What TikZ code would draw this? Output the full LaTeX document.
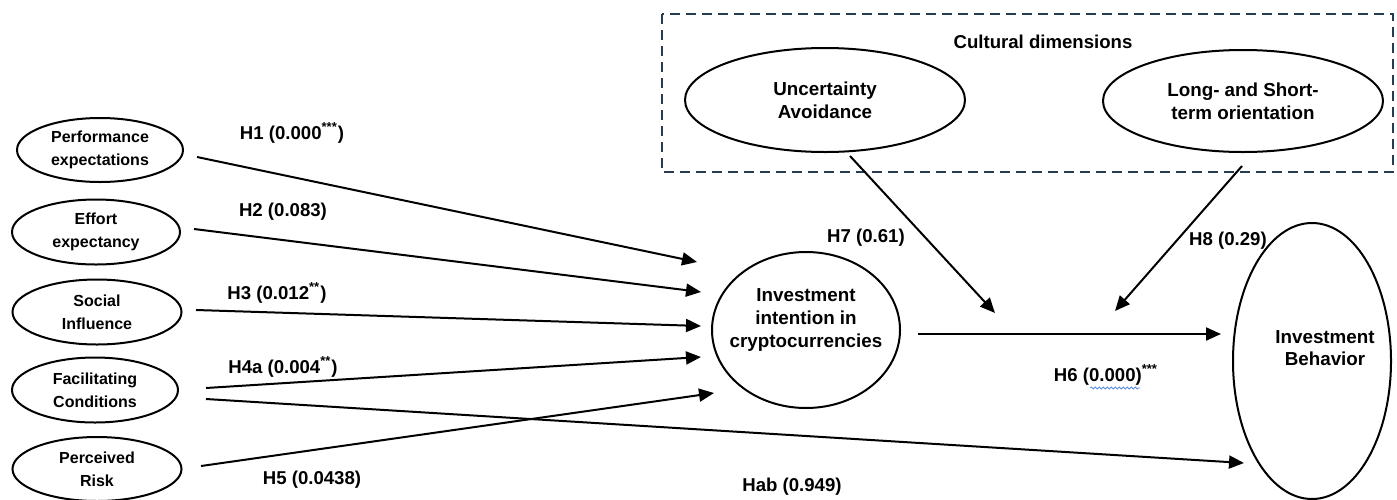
\documentclass[tikz,border=0pt]{standalone}
\usepackage{fontspec}
\setmainfont{Liberation Sans}
\usetikzlibrary{arrows.meta,calc,shapes.geometric,decorations.pathmorphing}
\definecolor{boxblue}{RGB}{38,60,84}
\definecolor{wavyblue}{RGB}{90,140,225}
\begin{document}
\begin{tikzpicture}[x=0.5pt,y=-0.5pt,
  lat/.style={draw, ellipse, line width=1pt, inner sep=0pt, align=center},
  small/.style={font=\fontsize{8}{11.5}\selectfont\bfseries},
  big/.style={font=\fontsize{9.4}{11.3}\selectfont\bfseries},
  lab/.style={font=\fontsize{9.3}{11}\selectfont\bfseries},
  arr/.style={line width=1pt, -{Triangle[length=7.5pt,width=6.5pt]}},
  cultbox/.style={draw=boxblue, line width=1pt, dash pattern=on 5pt off 3pt},
]
\useasboundingbox (0,0) rectangle (1397,499);

% cultural dimensions frame
\draw[cultbox] (662,14) rectangle (1393,172);
\node[lab] (cdt) at (1043,42) {Cultural dimensions};

% left constructs
\node[lat, small, minimum width=83pt, minimum height=32pt] (pe) at (100,150) {Performance\\expectations};
\node[lat, small, minimum width=84pt, minimum height=32.5pt] (ee) at (96,232) {Effort\\expectancy};
\node[lat, small, minimum width=84.5pt, minimum height=32.5pt] (si) at (97,312) {Social\\Influence};
\node[lat, small, minimum width=83pt, minimum height=32.5pt] (fc) at (95,390) {Facilitating\\Conditions};
\node[lat, small, minimum width=84.5pt, minimum height=32pt] (pr) at (97,469) {Perceived\\Risk};

% central constructs
\node[lat, minimum width=94pt, minimum height=78pt] (ii) at (806,330) {};
\node[big, align=center] (iit) at (806,320) {Investment\\intention in\\cryptocurrencies};
\node[lat, minimum width=79pt, minimum height=138pt] (ib) at (1312,361) {};
\node[big, align=center] (ibt) at (1325,348) {Investment\\Behavior};

% moderators
\node[lat, big, minimum width=140pt, minimum height=52pt] (ua) at (825,100) {Uncertainty\\Avoidance};
\node[lat, big, minimum width=140pt, minimum height=51pt] (lt) at (1243,101) {Long- and Short-\\term orientation};

% moderator arrow ends
\coordinate (m7) at (995,313);
\coordinate (m8) at (1115,311);

% connectors
\draw[arr] ($(pe.east)+(13,7)$) -- ($(ii.west)+(-14,-68)$);
\draw[arr] ($(ee.east)+(13,-3)$) -- ($(ii.west)+(-10,-38)$);
\draw[arr] ($(si.east)+(13.5,-2)$) -- ($(ii.west)+(-10,-4)$);
\draw[arr] ($(fc.east)+(27,-2)$) -- ($(ii.west)+(-10,27)$);
\draw[arr] ($(fc.east)+(27,9)$) -- ($(ib.west)+(12,102)$);
\draw[arr] ($(pr.east)+(18.5,-3)$) -- ($(ii.west)+(3,63)$);
\draw[arr] ($(ii.east)+(17,4)$) -- ($(ib.west)+(-11,-27)$);
\draw[arr] ($(ua.south)+(25,3)$) -- (m7);
\draw[arr] ($(lt.south)+(-1,13)$) -- (m8);

% labels
\node[lab] (h1) at (292,133) {H1 (0.000\textsuperscript{***})};
\node[lab] (h2) at (283,212) {H2 (0.083)};
\node[lab] (h3) at (277,293) {H3 (0.012\textsuperscript{**})};
\node[lab] (h4) at (283,367) {H4a (0.004\textsuperscript{**})};
\node[lab] (h5) at (312,480) {H5 (0.0438)};
\node[lab] (hab) at (792,487) {Hab (0.949)};
\node[lab] (h7) at (866,238) {H7 (0.61)};
\node[lab] (h8) at (1228,241) {H8 (0.29)};
\node[lab] (h6) at (1106,375) {H6 (0.000)\textsuperscript{***}};
\draw[wavyblue, line width=0.4pt, decorate, decoration={snake, amplitude=0.5pt, segment length=2pt}] (1090,388) -- (1140,388);
\end{tikzpicture}
\end{document}
